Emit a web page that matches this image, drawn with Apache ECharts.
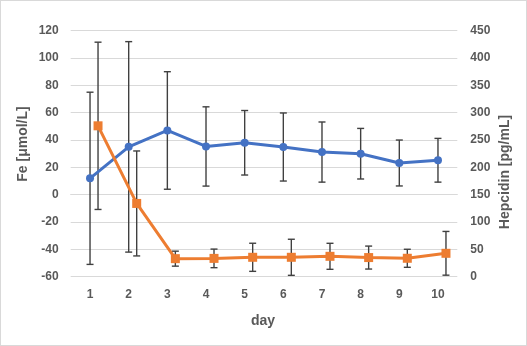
<!DOCTYPE html>
<html><head><meta charset="utf-8">
<script src="https://cdn.jsdelivr.net/npm/echarts@6/dist/echarts.min.js"></script>
<style>html,body{margin:0;padding:0;background:#fff}
#c{width:525px;height:344px;border:1px solid #d9d9d9}</style>
</head><body><div id="c"></div>
<script>
var days = ['1','2','3','4','5','6','7','8','9','10'];
var feMean = [12, 35, 47, 35.3, 38, 34.9, 31.2, 30, 23.2, 25.2];
var feSD = [63, 77, 43, 29, 23.6, 24.9, 22, 18.5, 16.8, 16];
var hepMean = [276, 134, 33, 33.5, 35.5, 35.5, 37.3, 35, 33.7, 42.8];
var hepSD = [153, 96, 13.7, 17, 25.7, 33, 23.8, 21, 16.5, 40];
var feTicks = {min: -60, max: 120, interval: 20};
var hepTicks = {min: 0, max: 450, interval: 50};

var font = 'Liberation Sans';
var grey = '#595959';
function errSeries(mean, sd, xi, yi) {
  return {
    type: 'custom', xAxisIndex: xi, yAxisIndex: yi, z: 3,
    data: mean.map(function (m, i) { return [i, m - sd[i], m + sd[i]]; }),
    renderItem: function (params, api) {
      var lo = api.coord([api.value(0), api.value(1)]);
      var hi = api.coord([api.value(0), api.value(2)]);
      var w = 3.5;
      var st = {stroke: '#404040', lineWidth: 1.4};
      return {type: 'group', children: [
        {type: 'line', shape: {x1: hi[0], y1: hi[1], x2: lo[0], y2: lo[1]}, style: st},
        {type: 'line', shape: {x1: hi[0] - w, y1: hi[1], x2: hi[0] + w, y2: hi[1]}, style: st},
        {type: 'line', shape: {x1: lo[0] - w, y1: lo[1], x2: lo[0] + w, y2: lo[1]}, style: st}
      ]};
    }
  };
}
var chart = echarts.init(document.getElementById('c'));
var gl = 69.7, gw = 386.6, gt = 29.7, gh = 246;
chart.setOption({
  animation: false,
  textStyle: {fontFamily: font},
  grid: [
    {left: gl, top: gt, width: gw, height: gh},
    {left: gl + 8, top: gt, width: gw, height: gh}
  ],
  xAxis: [
    {type: 'category', gridIndex: 0, data: days, boundaryGap: true,
     axisLine: {show: true, lineStyle: {color: '#d9d9d9'}}, axisTick: {show: false},
     axisLabel: {color: grey, fontSize: 12, fontWeight: 'bold', margin: 12}},
    {type: 'category', gridIndex: 1, data: days, boundaryGap: true, show: false}
  ],
  yAxis: [
    {type: 'value', gridIndex: 0, position: 'left', min: feTicks.min, max: feTicks.max, interval: feTicks.interval,
     axisLine: {show: false}, axisTick: {show: false},
     axisLabel: {color: grey, fontSize: 12, fontWeight: 'bold', margin: 12},
     splitLine: {lineStyle: {color: '#d9d9d9', width: 1}}},
    {type: 'value', gridIndex: 0, position: 'right', min: hepTicks.min, max: hepTicks.max, interval: hepTicks.interval,
     axisLine: {show: false}, axisTick: {show: false},
     axisLabel: {color: grey, fontSize: 12, fontWeight: 'bold', margin: 13},
     splitLine: {show: false}},
    {type: 'value', gridIndex: 1, min: hepTicks.min, max: hepTicks.max, show: false, splitLine: {show: false}}
  ],
  graphic: [
    {type: 'text', x: 22, y: 143, rotation: Math.PI / 2,
     style: {text: 'Fe [μmol/L]', fill: grey, font: 'bold 14px ' + font, align: 'center', verticalAlign: 'middle'}},
    {type: 'text', x: 504, y: 171, rotation: Math.PI / 2,
     style: {text: 'Hepcidin [pg/mL]', fill: grey, font: 'bold 14px ' + font, align: 'center', verticalAlign: 'middle'}},
    {type: 'text', x: 262, y: 320,
     style: {text: 'day', fill: grey, font: 'bold 14px ' + font, align: 'center', verticalAlign: 'middle'}}
  ],
  series: [
    {type: 'line', xAxisIndex: 0, yAxisIndex: 0, data: feMean, z: 4,
     symbol: 'circle', symbolSize: 8, itemStyle: {color: '#4472C4'},
     lineStyle: {color: '#4472C4', width: 3}},
    errSeries(feMean, feSD, 0, 0),
    {type: 'line', xAxisIndex: 1, yAxisIndex: 2, data: hepMean, z: 5,
     symbol: 'rect', symbolSize: 9, itemStyle: {color: '#ED7D31'},
     lineStyle: {color: '#ED7D31', width: 3}},
    errSeries(hepMean, hepSD, 1, 2)
  ]
});
</script></body></html>
